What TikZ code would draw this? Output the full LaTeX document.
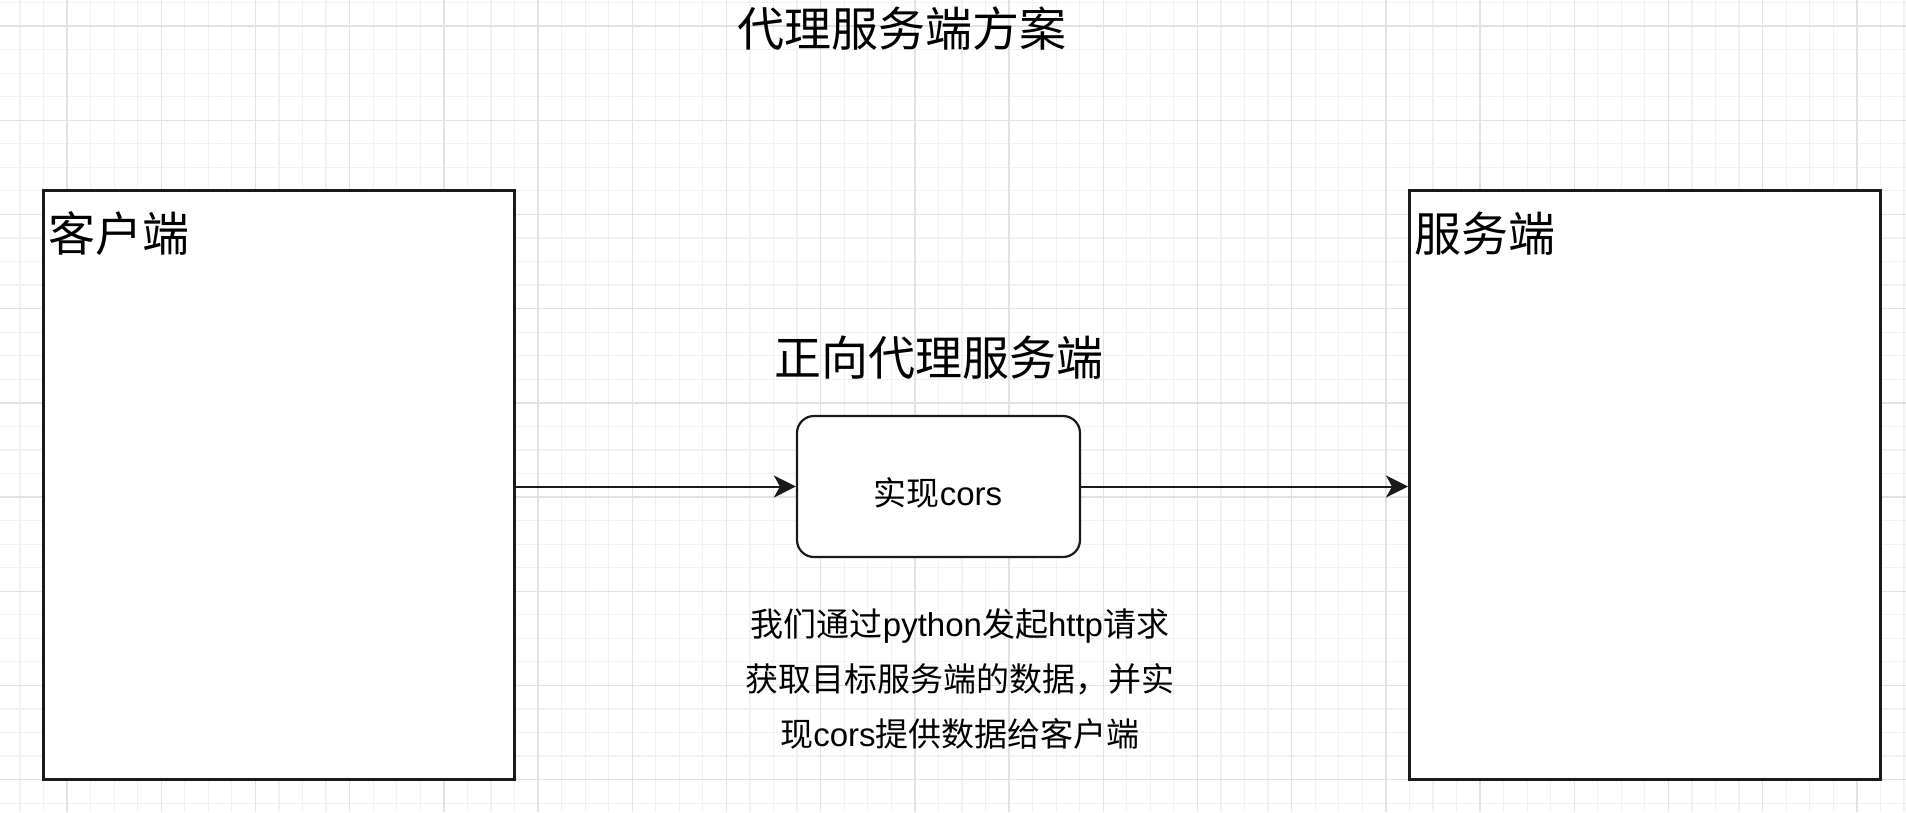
\documentclass[tikz,border=0pt]{standalone}
\usepackage{fontspec}
\setmainfont{Noto Sans CJK SC}
\newfontfamily\lat{Liberation Sans}
\usetikzlibrary{arrows.meta}
\definecolor{gridminor}{HTML}{F1F1F1}
\definecolor{gridmajor}{HTML}{E2E2E2}
\definecolor{inkc}{HTML}{1A1A1A}
\begin{document}
\begin{tikzpicture}[x=1pt,y=-1pt,
  minorline/.style={draw=gridminor,line width=1.2pt},
  majorline/.style={draw=gridmajor,line width=1.4pt},
  bigbox/.style={draw=inkc,fill=white,line width=2.6pt,minimum width=471pt,minimum height=589pt,inner sep=0pt},
  procbox/.style={draw=inkc,fill=white,line width=2.2pt,rounded corners=17pt,minimum width=283pt,minimum height=141pt,inner sep=0pt},
  bigtext/.style={inner sep=0pt,font=\fontsize{47}{56}\selectfont,text=black},
  smalltext/.style={inner sep=0pt,font=\fontsize{33}{55}\selectfont,text=black},
  conn/.style={draw=inkc,line width=2pt,-{Stealth[length=22pt,width=22pt,inset=6pt]}}
]
\useasboundingbox (0,0) rectangle (1906,812);
\fill[white] (0,0) rectangle (1906,812);
% grid
\foreach \i in {0,...,80} {\pgfmathsetmacro\xx{19.9+\i*23.55}\draw[minorline] (\xx,0) -- (\xx,812);}
\foreach \j in {0,...,34} {\pgfmathsetmacro\yy{2.45+\j*23.55}\draw[minorline] (0,\yy) -- (1906,\yy);}
\foreach \k in {0,...,19} {\pgfmathsetmacro\xx{67+\k*94.2}\draw[majorline] (\xx,0) -- (\xx,812);}
\foreach \k in {0,...,8} {\pgfmathsetmacro\yy{26+\k*94.2}\draw[majorline] (0,\yy) -- (1906,\yy);}

% title
\node[bigtext,anchor=base] (title) at (902,46) {代理服务端方案};

% boxes
\node[bigbox] (client) at (278.95,485.2) {};
\node[bigbox] (server) at (1644.8,485.2) {};
\node[procbox] (proxy) at (938.5,486.5) {};

\node[bigtext,anchor=base west] (clientlbl) at (48,251) {客户端};
\node[bigtext,anchor=base west] (serverlbl) at (1414,251) {服务端};
\node[bigtext,anchor=base] (proxylbl) at (939,375) {正向代理服务端};
\node[smalltext,anchor=base] (proxytxt) at (938,505) {实现{\lat cors}};

\node[smalltext,anchor=base,align=center] (note) at (960,746)
  {我们通过{\lat python}发起{\lat http}请求\\获取目标服务端的数据，并实\\现{\lat cors}提供数据给客户端};

% connectors
\draw[conn] (proxy.west -| client.east) -- (proxy.west);
\draw[conn] (proxy.east) -- (proxy.east -| server.west);
\end{tikzpicture}
\end{document}
